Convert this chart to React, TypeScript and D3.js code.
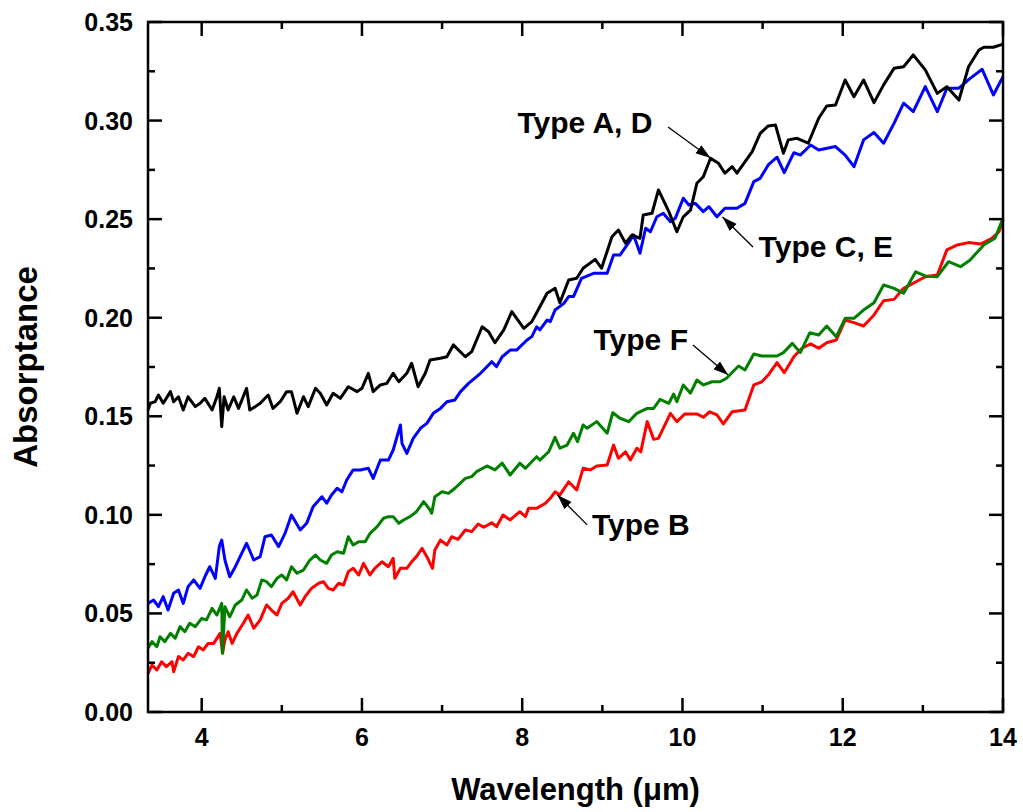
import React, { useRef, useEffect } from 'react';
import * as d3 from 'd3';

// Type A, D (black)
const wlA = [3.33, 3.36, 3.42, 3.46, 3.52, 3.61, 3.65, 3.71, 3.77, 3.83, 3.92, 3.98, 4.04, 4.13, 4.19, 4.22, 4.25, 4.28, 4.33, 4.40, 4.46, 4.56, 4.60, 4.67, 4.73, 4.83, 4.89, 4.98, 5.06, 5.12, 5.19, 5.27, 5.33, 5.42, 5.48, 5.56, 5.64, 5.73, 5.83, 5.94, 6.00, 6.08, 6.14, 6.23, 6.31, 6.39, 6.46, 6.56, 6.62, 6.70, 6.79, 6.85, 6.98, 7.06, 7.14, 7.29, 7.37, 7.50, 7.58, 7.66, 7.77, 7.87, 8.02, 8.12, 8.22, 8.31, 8.41, 8.47, 8.58, 8.68, 8.76, 8.91, 8.99, 9.12, 9.20, 9.29, 9.37, 9.47, 9.51, 9.62, 9.70, 9.83, 9.93, 10.01, 10.10, 10.18, 10.26, 10.35, 10.45, 10.53, 10.62, 10.68, 10.87, 10.97, 11.07, 11.16, 11.26, 11.32, 11.43, 11.57, 11.70, 11.80, 11.91, 12.03, 12.14, 12.26, 12.39, 12.51, 12.64, 12.76, 12.88, 13.03, 13.18, 13.30, 13.45, 13.57, 13.70, 13.76, 13.88, 14.0];
const absA = [0.1532, 0.1566, 0.1574, 0.1608, 0.1566, 0.1625, 0.1574, 0.1599, 0.1532, 0.1599, 0.1549, 0.1566, 0.1591, 0.1532, 0.1599, 0.1642, 0.1447, 0.1599, 0.1532, 0.1599, 0.1540, 0.1642, 0.1532, 0.1549, 0.1566, 0.1608, 0.1540, 0.1574, 0.1625, 0.1625, 0.1515, 0.1599, 0.1549, 0.1642, 0.1617, 0.1557, 0.1617, 0.1591, 0.1650, 0.1625, 0.1642, 0.1718, 0.1625, 0.1659, 0.1667, 0.1718, 0.1675, 0.1718, 0.1769, 0.1650, 0.1718, 0.1786, 0.1794, 0.1802, 0.1862, 0.1802, 0.1828, 0.1954, 0.1929, 0.1873, 0.1938, 0.2031, 0.1946, 0.1980, 0.2056, 0.2124, 0.2149, 0.2076, 0.2191, 0.2200, 0.2251, 0.2296, 0.2251, 0.2411, 0.2445, 0.2378, 0.2420, 0.2403, 0.2521, 0.2530, 0.2648, 0.2538, 0.2436, 0.2512, 0.2546, 0.2682, 0.2715, 0.2809, 0.2783, 0.2733, 0.2766, 0.2733, 0.2842, 0.2935, 0.2973, 0.2978, 0.2834, 0.2902, 0.2910, 0.2885, 0.3012, 0.3074, 0.3079, 0.3206, 0.3121, 0.3206, 0.3091, 0.3181, 0.3265, 0.3273, 0.3333, 0.3257, 0.3138, 0.3172, 0.3104, 0.3273, 0.3358, 0.3372, 0.3372, 0.3388];

// Type C, E (blue)
const wlC = [3.33, 3.40, 3.46, 3.52, 3.58, 3.65, 3.71, 3.77, 3.83, 3.90, 3.98, 4.04, 4.10, 4.17, 4.22, 4.25, 4.29, 4.35, 4.42, 4.48, 4.56, 4.65, 4.73, 4.79, 4.87, 4.96, 5.04, 5.12, 5.23, 5.31, 5.39, 5.50, 5.56, 5.62, 5.69, 5.75, 5.81, 5.89, 5.98, 6.08, 6.14, 6.23, 6.33, 6.39, 6.48, 6.50, 6.56, 6.64, 6.73, 6.81, 6.89, 6.98, 7.06, 7.16, 7.23, 7.33, 7.48, 7.62, 7.68, 7.75, 7.85, 7.93, 8.06, 8.12, 8.18, 8.22, 8.31, 8.35, 8.41, 8.52, 8.58, 8.64, 8.74, 8.89, 9.06, 9.14, 9.22, 9.35, 9.39, 9.47, 9.54, 9.60, 9.68, 9.76, 9.85, 9.91, 10.01, 10.08, 10.16, 10.26, 10.33, 10.43, 10.53, 10.68, 10.78, 10.89, 10.97, 11.07, 11.18, 11.27, 11.39, 11.47, 11.60, 11.70, 11.91, 12.03, 12.14, 12.26, 12.39, 12.51, 12.64, 12.76, 12.88, 13.03, 13.18, 13.30, 13.45, 13.59, 13.74, 13.88, 14.0];
const absC = [0.0551, 0.0568, 0.0534, 0.0585, 0.0517, 0.0602, 0.0619, 0.0551, 0.0636, 0.0670, 0.0627, 0.0686, 0.0737, 0.0678, 0.0839, 0.0872, 0.0771, 0.0686, 0.0737, 0.0788, 0.0856, 0.0771, 0.0788, 0.0889, 0.0898, 0.0839, 0.0906, 0.0999, 0.0923, 0.0957, 0.1041, 0.1092, 0.1059, 0.1101, 0.1135, 0.1117, 0.1177, 0.1228, 0.1228, 0.1236, 0.1185, 0.1278, 0.1278, 0.1329, 0.1456, 0.1363, 0.1312, 0.1388, 0.1439, 0.1464, 0.1515, 0.1540, 0.1574, 0.1583, 0.1625, 0.1667, 0.1718, 0.1777, 0.1752, 0.1802, 0.1836, 0.1836, 0.1887, 0.1904, 0.1954, 0.1938, 0.1988, 0.1980, 0.2039, 0.2073, 0.2107, 0.2107, 0.2200, 0.2225, 0.2225, 0.2318, 0.2318, 0.2394, 0.2420, 0.2327, 0.2454, 0.2436, 0.2512, 0.2530, 0.2487, 0.2504, 0.2606, 0.2572, 0.2580, 0.2538, 0.2563, 0.2512, 0.2555, 0.2555, 0.2580, 0.2690, 0.2707, 0.2775, 0.2814, 0.2736, 0.2837, 0.2825, 0.2876, 0.2851, 0.2868, 0.2825, 0.2766, 0.2902, 0.2939, 0.2885, 0.2986, 0.3088, 0.3045, 0.3172, 0.3045, 0.3164, 0.3164, 0.3214, 0.3260, 0.3130, 0.3223];

// Type F (green)
const wlF = [3.33, 3.38, 3.44, 3.48, 3.54, 3.61, 3.67, 3.73, 3.79, 3.85, 3.92, 4.00, 4.06, 4.13, 4.19, 4.25, 4.26, 4.29, 4.35, 4.42, 4.50, 4.56, 4.63, 4.69, 4.75, 4.81, 4.87, 4.94, 5.00, 5.06, 5.12, 5.19, 5.27, 5.35, 5.42, 5.48, 5.56, 5.62, 5.69, 5.77, 5.83, 5.89, 5.96, 6.04, 6.10, 6.19, 6.27, 6.33, 6.39, 6.46, 6.52, 6.60, 6.68, 6.77, 6.85, 6.87, 6.91, 7.00, 7.08, 7.16, 7.29, 7.37, 7.43, 7.56, 7.66, 7.75, 7.85, 7.97, 8.04, 8.18, 8.22, 8.33, 8.41, 8.47, 8.56, 8.64, 8.69, 8.76, 8.81, 8.93, 9.06, 9.13, 9.22, 9.33, 9.43, 9.56, 9.64, 9.72, 9.83, 9.89, 9.93, 10.01, 10.10, 10.18, 10.26, 10.37, 10.47, 10.55, 10.70, 10.78, 10.89, 10.99, 11.18, 11.26, 11.37, 11.47, 11.59, 11.70, 11.80, 11.92, 12.03, 12.14, 12.26, 12.39, 12.51, 12.64, 12.76, 12.91, 13.03, 13.18, 13.32, 13.47, 13.59, 13.76, 13.90, 14.0];
const absF = [0.0323, 0.0357, 0.0331, 0.0382, 0.0357, 0.0399, 0.0374, 0.0433, 0.0407, 0.0450, 0.0433, 0.0475, 0.0467, 0.0526, 0.0492, 0.0551, 0.0298, 0.0534, 0.0483, 0.0543, 0.0568, 0.0619, 0.0577, 0.0593, 0.0670, 0.0661, 0.0636, 0.0678, 0.0695, 0.0670, 0.0737, 0.0704, 0.0720, 0.0771, 0.0796, 0.0771, 0.0754, 0.0796, 0.0813, 0.0805, 0.0889, 0.0847, 0.0864, 0.0864, 0.0906, 0.0940, 0.0983, 0.0991, 0.0991, 0.0957, 0.0974, 0.0991, 0.1016, 0.1067, 0.1025, 0.1008, 0.1092, 0.1117, 0.1109, 0.1135, 0.1185, 0.1194, 0.1219, 0.1248, 0.1228, 0.1262, 0.1202, 0.1262, 0.1236, 0.1295, 0.1278, 0.1320, 0.1393, 0.1338, 0.1354, 0.1414, 0.1371, 0.1456, 0.1439, 0.1473, 0.1414, 0.1518, 0.1490, 0.1473, 0.1515, 0.1540, 0.1540, 0.1586, 0.1566, 0.1613, 0.1574, 0.1659, 0.1617, 0.1684, 0.1659, 0.1675, 0.1675, 0.1693, 0.1755, 0.1735, 0.1816, 0.1806, 0.1806, 0.1823, 0.1870, 0.1823, 0.1924, 0.1912, 0.1958, 0.1904, 0.1997, 0.1997, 0.2039, 0.2076, 0.2166, 0.2149, 0.2124, 0.2233, 0.2212, 0.2208, 0.2284, 0.2259, 0.2293, 0.2369, 0.2403, 0.2504];

// Type B (red)
const wlB = [3.33, 3.38, 3.44, 3.50, 3.56, 3.63, 3.65, 3.71, 3.77, 3.83, 3.90, 3.96, 4.02, 4.08, 4.15, 4.23, 4.26, 4.29, 4.33, 4.38, 4.44, 4.52, 4.58, 4.65, 4.73, 4.81, 4.87, 4.94, 5.00, 5.08, 5.14, 5.23, 5.29, 5.37, 5.46, 5.52, 5.58, 5.64, 5.71, 5.77, 5.83, 5.89, 5.96, 6.02, 6.10, 6.16, 6.25, 6.33, 6.39, 6.41, 6.48, 6.56, 6.62, 6.68, 6.75, 6.81, 6.88, 6.91, 6.98, 7.06, 7.12, 7.20, 7.29, 7.37, 7.45, 7.52, 7.62, 7.68, 7.76, 7.85, 7.97, 8.04, 8.08, 8.18, 8.29, 8.35, 8.41, 8.47, 8.58, 8.68, 8.76, 8.85, 8.93, 9.06, 9.14, 9.20, 9.29, 9.35, 9.43, 9.48, 9.56, 9.64, 9.70, 9.85, 9.93, 10.03, 10.18, 10.26, 10.34, 10.43, 10.51, 10.62, 10.78, 10.89, 10.99, 11.07, 11.18, 11.27, 11.39, 11.49, 11.60, 11.70, 11.80, 11.92, 12.03, 12.14, 12.26, 12.39, 12.51, 12.64, 12.76, 12.88, 13.03, 13.18, 13.30, 13.43, 13.57, 13.72, 13.86, 13.95, 14.0];
const absB = [0.0196, 0.0238, 0.0213, 0.0255, 0.0230, 0.0255, 0.0204, 0.0281, 0.0264, 0.0298, 0.0281, 0.0331, 0.0315, 0.0348, 0.0348, 0.0399, 0.0298, 0.0365, 0.0407, 0.0348, 0.0399, 0.0450, 0.0492, 0.0425, 0.0467, 0.0543, 0.0517, 0.0492, 0.0551, 0.0577, 0.0610, 0.0543, 0.0585, 0.0627, 0.0653, 0.0661, 0.0627, 0.0619, 0.0653, 0.0644, 0.0712, 0.0729, 0.0695, 0.0754, 0.0695, 0.0729, 0.0762, 0.0737, 0.0780, 0.0678, 0.0729, 0.0729, 0.0762, 0.0788, 0.0830, 0.0788, 0.0729, 0.0822, 0.0872, 0.0847, 0.0889, 0.0876, 0.0923, 0.0915, 0.0954, 0.0937, 0.0960, 0.0940, 0.0999, 0.0974, 0.1016, 0.0991, 0.1033, 0.1033, 0.1059, 0.1084, 0.1117, 0.1101, 0.1168, 0.1126, 0.1236, 0.1228, 0.1248, 0.1253, 0.1354, 0.1287, 0.1320, 0.1278, 0.1338, 0.1320, 0.1473, 0.1383, 0.1388, 0.1515, 0.1473, 0.1512, 0.1512, 0.1495, 0.1523, 0.1507, 0.1461, 0.1523, 0.1532, 0.1659, 0.1675, 0.1709, 0.1772, 0.1721, 0.1802, 0.1845, 0.1867, 0.1845, 0.1873, 0.1887, 0.1988, 0.1975, 0.1958, 0.2014, 0.2086, 0.2093, 0.2149, 0.2175, 0.2208, 0.2217, 0.2344, 0.2369, 0.2381, 0.2374, 0.2403, 0.2436, 0.2496];

const xMajor = [4, 6, 8, 10, 12, 14];
const xMinor = [5, 7, 9, 11, 13];
const yMajor = [0, 0.05, 0.1, 0.15, 0.2, 0.25, 0.3, 0.35];
const yMinor = [0.025, 0.075, 0.125, 0.175, 0.225, 0.275, 0.325];

// label text, anchor (wavelength, absorptance), arrow start and tip
const labels = ['Type A, D', 'Type C, E', 'Type F', 'Type B'];
const labelPos = [[7.94, 0.2937], [10.95, 0.2308], [8.89, 0.1836], [8.87, 0.0898]];
const arrowFrom = [[9.82, 0.2967], [10.88, 0.2359], [10.13, 0.1862], [8.81, 0.0949]];
const arrowTo = [[10.35, 0.2810], [10.50, 0.2511], [10.57, 0.1709], [8.44, 0.1101]];

const series = [
  { x: wlB, y: absB, color: '#ff0000' },
  { x: wlF, y: absF, color: '#007f00' },
  { x: wlC, y: absC, color: '#0000ff' },
  { x: wlA, y: absA, color: '#000000' },
];

const FONT = '"Liberation Sans", Arial, Helvetica, sans-serif';

const App = () => {
  const svgRef = useRef(null);

  useEffect(() => {
    const svg = d3.select(svgRef.current);
    svg.selectAll('*').remove();

    const left = 148, right = 1003, top = 22, bottom = 712;
    const x = d3.scaleLinear().domain([3.33, 14]).range([left, right]);
    const y = d3.scaleLinear().domain([0, 0.35]).range([bottom, top]);

    svg.append('defs').append('marker')
      .attr('id', 'arrowhead')
      .attr('markerUnits', 'userSpaceOnUse')
      .attr('markerWidth', 16)
      .attr('markerHeight', 12)
      .attr('refX', 15)
      .attr('refY', 6)
      .attr('orient', 'auto')
      .append('path')
      .attr('d', 'M0,1 L15,6 L0,11 Z')
      .attr('fill', '#000');

    // curves
    const line = d3.line().x(d => x(d[0])).y(d => y(d[1]));
    series.forEach(s => {
      svg.append('path')
        .datum(s.x.map((v, i) => [v, s.y[i]]))
        .attr('d', line)
        .attr('fill', 'none')
        .attr('stroke', s.color)
        .attr('stroke-width', 3)
        .attr('stroke-linejoin', 'round');
    });

    // frame + inward ticks on all sides
    const g = svg.append('g').attr('stroke', '#000').attr('stroke-width', 2.5);
    xMajor.concat(xMinor).forEach(v => {
      const len = xMajor.includes(v) ? 14 : 7;
      g.append('line').attr('x1', x(v)).attr('x2', x(v)).attr('y1', bottom).attr('y2', bottom - len);
      g.append('line').attr('x1', x(v)).attr('x2', x(v)).attr('y1', top).attr('y2', top + len);
    });
    yMajor.concat(yMinor).forEach(v => {
      const len = yMajor.includes(v) ? 14 : 7;
      g.append('line').attr('x1', left).attr('x2', left + len).attr('y1', y(v)).attr('y2', y(v));
      g.append('line').attr('x1', right).attr('x2', right - len).attr('y1', y(v)).attr('y2', y(v));
    });
    g.append('rect')
      .attr('x', left).attr('y', top)
      .attr('width', right - left).attr('height', bottom - top)
      .attr('fill', 'none');

    // tick labels
    svg.append('g').selectAll('text')
      .data(xMajor)
      .enter().append('text')
      .attr('x', d => x(d))
      .attr('y', 746)
      .attr('text-anchor', 'middle')
      .style('font', `bold 25px ${FONT}`)
      .text(d => d);

    svg.append('g').selectAll('text')
      .data(yMajor)
      .enter().append('text')
      .attr('x', 133)
      .attr('y', d => y(d))
      .attr('dy', '0.36em')
      .attr('text-anchor', 'end')
      .style('font', `bold 25px ${FONT}`)
      .text(d => d3.format('.2f')(d));

    // axis titles
    svg.append('text')
      .attr('x', (left + right) / 2)
      .attr('y', 800)
      .attr('text-anchor', 'middle')
      .style('font', `bold 31px ${FONT}`)
      .text('Wavelength (μm)');

    svg.append('text')
      .attr('transform', `translate(37,${(top + bottom) / 2}) rotate(-90)`)
      .attr('text-anchor', 'middle')
      .style('font', `bold 33px ${FONT}`)
      .text('Absorptance');

    // annotations
    labels.forEach((t, i) => {
      svg.append('text')
        .attr('x', x(labelPos[i][0]))
        .attr('y', y(labelPos[i][1]))
        .style('font', `bold 30px ${FONT}`)
        .text(t);
      svg.append('line')
        .attr('x1', x(arrowFrom[i][0])).attr('y1', y(arrowFrom[i][1]))
        .attr('x2', x(arrowTo[i][0])).attr('y2', y(arrowTo[i][1]))
        .attr('stroke', '#000')
        .attr('stroke-width', 1.3)
        .attr('marker-end', 'url(#arrowhead)');
    });
  }, []);

  return (
    <svg
      ref={svgRef}
      width={1023}
      height={812}
      style={{ position: 'absolute', left: 0, top: 0, background: '#fff' }}
    />
  );
};

export default App;
